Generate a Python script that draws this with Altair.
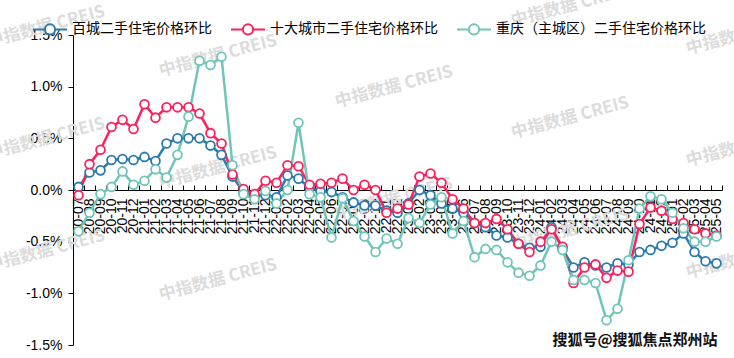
import altair as alt
import pandas as pd

months = [f"{y % 100:02d}-{m:02d}" for y in range(2020, 2026) for m in range(1, 13)][6:65]

names = ["百城二手住宅价格环比", "十大城市二手住宅价格环比", "重庆（主城区）二手住宅价格环比"]
colors = ["#2a7aad", "#ff1f5b", "#6fc6b8"]

bai = [0.03, 0.17, 0.19, 0.29, 0.30, 0.29, 0.32, 0.28, 0.45, 0.50, 0.50, 0.50, 0.43, 0.34, 0.13,
       -0.02, -0.06, -0.05, -0.07, 0.14, 0.11, 0.02, -0.01, -0.02, -0.07, -0.12, -0.15, -0.15,
       -0.20, -0.22, -0.13, 0.00, -0.05, -0.13, -0.18, -0.22, -0.32, -0.36, -0.44, -0.46, -0.52,
       -0.56, -0.55, -0.36, -0.57, -0.75, -0.70, -0.73, -0.75, -0.71, -0.72, -0.60, -0.58, -0.54,
       -0.51, -0.42, -0.60, -0.69, -0.71]
ten = [-0.05, 0.25, 0.39, 0.61, 0.68, 0.59, 0.83, 0.70, 0.80, 0.80, 0.80, 0.74, 0.55, 0.45, 0.15,
       0.01, -0.04, 0.09, 0.07, 0.24, 0.23, 0.05, 0.06, 0.07, 0.11, 0.00, 0.05, 0.00,
       -0.22, -0.18, -0.14, 0.13, 0.16, 0.07, -0.09, -0.18, -0.32, -0.32, -0.28, -0.38, -0.52,
       -0.60, -0.50, -0.38, -0.55, -0.90, -0.75, -0.72, -0.85, -0.78, -0.79, -0.33, -0.17, -0.20,
       -0.28, -0.32, -0.38, -0.42, -0.44]
cq = [-0.40, -0.22, -0.04, 0.03, 0.18, 0.05, 0.09, 0.20, 0.12, 0.34, 0.71, 1.25, 1.21, 1.29, 0.24,
      -0.04, -0.09, -0.01, -0.13, 0.00, 0.65, -0.04, -0.07, -0.46, -0.08, -0.30, -0.45, -0.60,
      -0.47, -0.52, -0.27, -0.32, -0.14, -0.07, -0.42, -0.30, -0.65, -0.57, -0.58, -0.70, -0.80,
      -0.83, -0.73, -0.50, -0.58, -0.87, -0.87, -0.90, -1.26, -1.15, -0.68, -0.18, -0.06, -0.09,
      -0.22, -0.37, -0.50, -0.50, -0.45]

rows = []
for name, vals in zip(names, [bai, ten, cq]):
    for m, v in zip(months, vals):
        rows.append({"month": m, "series": name, "v": v / 100})
df = pd.DataFrame(rows)

W, H = 649, 310
ZERO_OFF = H / 2

xscale = alt.Scale(type="band", domain=months, paddingInner=0, paddingOuter=0)


def xenc(axis):
    return alt.X("month:O", sort=months, scale=xscale, bandPosition=0.5, axis=axis, title=None)


yaxis = alt.Axis(values=[-0.015, -0.01, -0.005, 0, 0.005, 0.01, 0.015],
                 labelExpr="replace(format(datum.value, '.1%'), '\u2212', '-')",
                 grid=False, tickSize=5, tickColor="black", domainColor="black",
                 labelFontSize=14, labelFont="Liberation Sans", labelColor="black",
                 labelPadding=6, title=None)
yenc = alt.Y("v:Q", scale=alt.Scale(domain=[-0.015, 0.015], nice=False, zero=False),
             axis=yaxis, title=None)

sym = "M-1,0L-0.3,0M0.3,0L1,0M-0.3,0A0.3,0.3,0,1,0,0.3,0A0.3,0.3,0,1,0,-0.3,0Z"
cenc = alt.Color("series:N", scale=alt.Scale(domain=names, range=colors),
                 legend=alt.Legend(title=None, orient="none", legendX=-41, legendY=-24,
                                   direction="horizontal", symbolType=sym, symbolSize=1156,
                                   symbolStrokeWidth=2, symbolFillColor="white",
                                   labelFontSize=14, labelFont="Noto Sans CJK SC",
                                   labelColor="black", labelLimit=400,
                                   columnPadding=15, labelOffset=4))

bottom_axis = alt.Axis(orient="bottom", offset=-ZERO_OFF, ticks=False, domain=True,
                       domainColor="black", domainWidth=1, labelAngle=270,
                       labelAlign="right", labelBaseline="middle", labelOverlap=False,
                       labelFontSize=14, labelFont="Liberation Sans", labelColor="black",
                       labelPadding=8, grid=False, title=None)
top_axis = alt.Axis(orient="top", offset=-ZERO_OFF, labels=False, domain=False, ticks=True,
                    tickSize=5, tickBand="extent", tickColor="black", tickWidth=1,
                    grid=False, title=None)

lines = alt.Chart(df).mark_line(strokeWidth=2.5).encode(
    x=xenc(bottom_axis), y=yenc, color=cenc)
points = alt.Chart(df).mark_point(shape="circle", filled=False, fill="white", fillOpacity=1,
                                  size=78, strokeWidth=1.8, opacity=1).encode(
    x=xenc(top_axis), y=yenc, color=cenc)

# decorative watermark anchors (pixel positions in chart space)
wm_x = [46, 46, 46, 218, 218, 218, 394, 394, 570, 570, 570, 745, 745, 745]
wm_y = [27, 139, 251, 56, 168, 280, 87, 199, 6, 118, 230, 34, 146, 258]
one = pd.DataFrame({"k": [0]})
wms = [alt.Chart(one).mark_text(text="中指数据 CREIS", angle=345, fontSize=17, fontWeight="bold",
                                font="Noto Sans CJK SC", color="#dcdcdc").encode(
    x=alt.value(px - 73), y=alt.value(py - 35)) for px, py in zip(wm_x, wm_y)]

src_halo = alt.Chart(one).mark_text(text="搜狐号@搜狐焦点郑州站", fontSize=15, fontWeight="bold",
                                    font="Noto Sans CJK SC", stroke="white", strokeWidth=3,
                                    color="white").encode(x=alt.value(562), y=alt.value(305))
src = alt.Chart(one).mark_text(text="搜狐号@搜狐焦点郑州站", fontSize=15, fontWeight="bold",
                               font="Noto Sans CJK SC", color="#111111").encode(
    x=alt.value(562), y=alt.value(305))

chart = alt.layer(*wms, lines, points, src_halo, src).resolve_axis(x="independent").properties(
    width=W, height=H,
    padding={"left": 73, "top": 35, "right": 12, "bottom": 13},
    autosize=alt.AutoSizeParams(type="none"),
    background="white",
).configure_view(stroke=None)

chart.save("out.html", embed_options={"renderer": "svg", "actions": False})
